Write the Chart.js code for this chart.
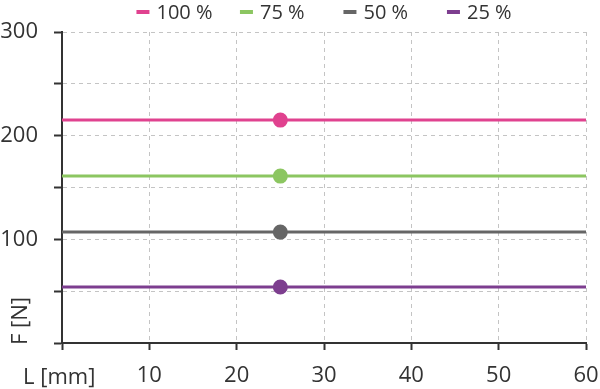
<!DOCTYPE html>
<html>
<head>
<meta charset="utf-8">
<script src="https://cdn.jsdelivr.net/npm/chart.js@4"></script>
<style>
  html, body { margin: 0; padding: 0; background: #fff; }
  #wrap { width: 600px; height: 389px; }
</style>
</head>
<body>
<div id="wrap"><canvas id="chart"></canvas></div>
<script>
// Data
const lengthPoints = [0, 25, 60];           // L [mm]
const seriesLabels = ['100 %', '75 %', '50 %', '25 %'];
const seriesForce = [215, 161, 107, 54];    // F [N], constant over L
const markerAt = 25;                        // marker position on each line
const yTicks = [0, 50, 100, 150, 200, 250, 300];
const xTicks = [0, 10, 20, 30, 40, 50, 60];

const COLORS = ['#e0428f', '#8cc661', '#666666', '#7d3e8f'];
const TEXT = '#333333';
const GRID = '#c4c4c4';
const FONT = '"Open Sans", sans-serif';

const datasets = seriesLabels.map((label, i) => ({
  label,
  data: lengthPoints.map((x) => ({ x, y: seriesForce[i] })),
  borderColor: COLORS[i],
  backgroundColor: COLORS[i],
  borderWidth: 3,
  pointRadius: lengthPoints.map((x) => (x === markerAt ? 6 : 0)),
  pointHoverRadius: 6,
  fill: false,
  tension: 0
}));

// Legend: fixed-width slots centred over the plot area
const topLegend = {
  id: 'topLegend',
  afterDraw(chart) {
    const { ctx, chartArea } = chart;
    const step = 103.5;
    const sets = chart.data.datasets;
    ctx.save();
    ctx.font = '20px ' + FONT;
    const lastW = 20 + ctx.measureText(sets[sets.length - 1].label).width;
    const total = step * (sets.length - 1) + lastW;
    let x = (chartArea.left + chartArea.right) / 2 - total / 2;
    ctx.textBaseline = 'middle';
    ctx.textAlign = 'left';
    sets.forEach((ds) => {
      ctx.fillStyle = ds.borderColor;
      ctx.fillRect(x, 10, 13, 4);
      ctx.fillStyle = TEXT;
      ctx.fillText(ds.label, x + 20, 13);
      x += step;
    });
    ctx.restore();
  }
};

// Axis titles sit in the corners
const cornerTitles = {
  id: 'cornerTitles',
  afterDraw(chart) {
    const { ctx } = chart;
    ctx.save();
    ctx.fillStyle = TEXT;
    ctx.font = '22px ' + FONT;
    ctx.textBaseline = 'alphabetic';
    ctx.textAlign = 'left';
    ctx.fillText('L [mm]', 23, 384);
    ctx.translate(27, 345);
    ctx.rotate(-Math.PI / 2);
    ctx.fillText('F [N]', 0, 0);
    ctx.restore();
  }
};

new Chart(document.getElementById('chart'), {
  type: 'line',
  data: { datasets },
  options: {
    responsive: true,
    maintainAspectRatio: false,
    animation: false,
    layout: { padding: { top: 32, right: 14, left: 0, bottom: 0 } },
    plugins: {
      legend: { display: false },
      tooltip: { enabled: false }
    },
    scales: {
      x: {
        type: 'linear',
        min: 0,
        max: 60,
        afterFit(scale) {
          scale.height = 46;
          scale.paddingLeft = 0;
          scale.paddingRight = 0;
        },
        afterBuildTicks(scale) { scale.ticks = xTicks.map((v) => ({ value: v })); },
        ticks: {
          color: TEXT,
          padding: 13,
          font: { family: FONT, size: 22 },
          callback: (v) => (v === 0 ? '' : v)
        },
        grid: {
          color: GRID,
          lineWidth: 1,
          tickColor: TEXT,
          tickWidth: 2,
          tickLength: 7
        },
        border: { display: true, color: TEXT, width: 2, dash: [4, 4] }
      },
      y: {
        type: 'linear',
        min: 0,
        max: 300,
        afterFit(scale) {
          scale.width = 62;
          scale.paddingTop = 0;
          scale.paddingBottom = 0;
        },
        afterBuildTicks(scale) { scale.ticks = yTicks.map((v) => ({ value: v })); },
        ticks: {
          color: TEXT,
          padding: 16,
          font: { family: FONT, size: 22 },
          callback: (v) => (v % 100 === 0 && v !== 0 ? v : '')
        },
        grid: {
          color: GRID,
          lineWidth: 1,
          tickColor: TEXT,
          tickWidth: 2,
          tickLength: 8
        },
        border: { display: true, color: TEXT, width: 2, dash: [4, 4] }
      }
    }
  },
  plugins: [topLegend, cornerTitles]
});
</script>
</body>
</html>
